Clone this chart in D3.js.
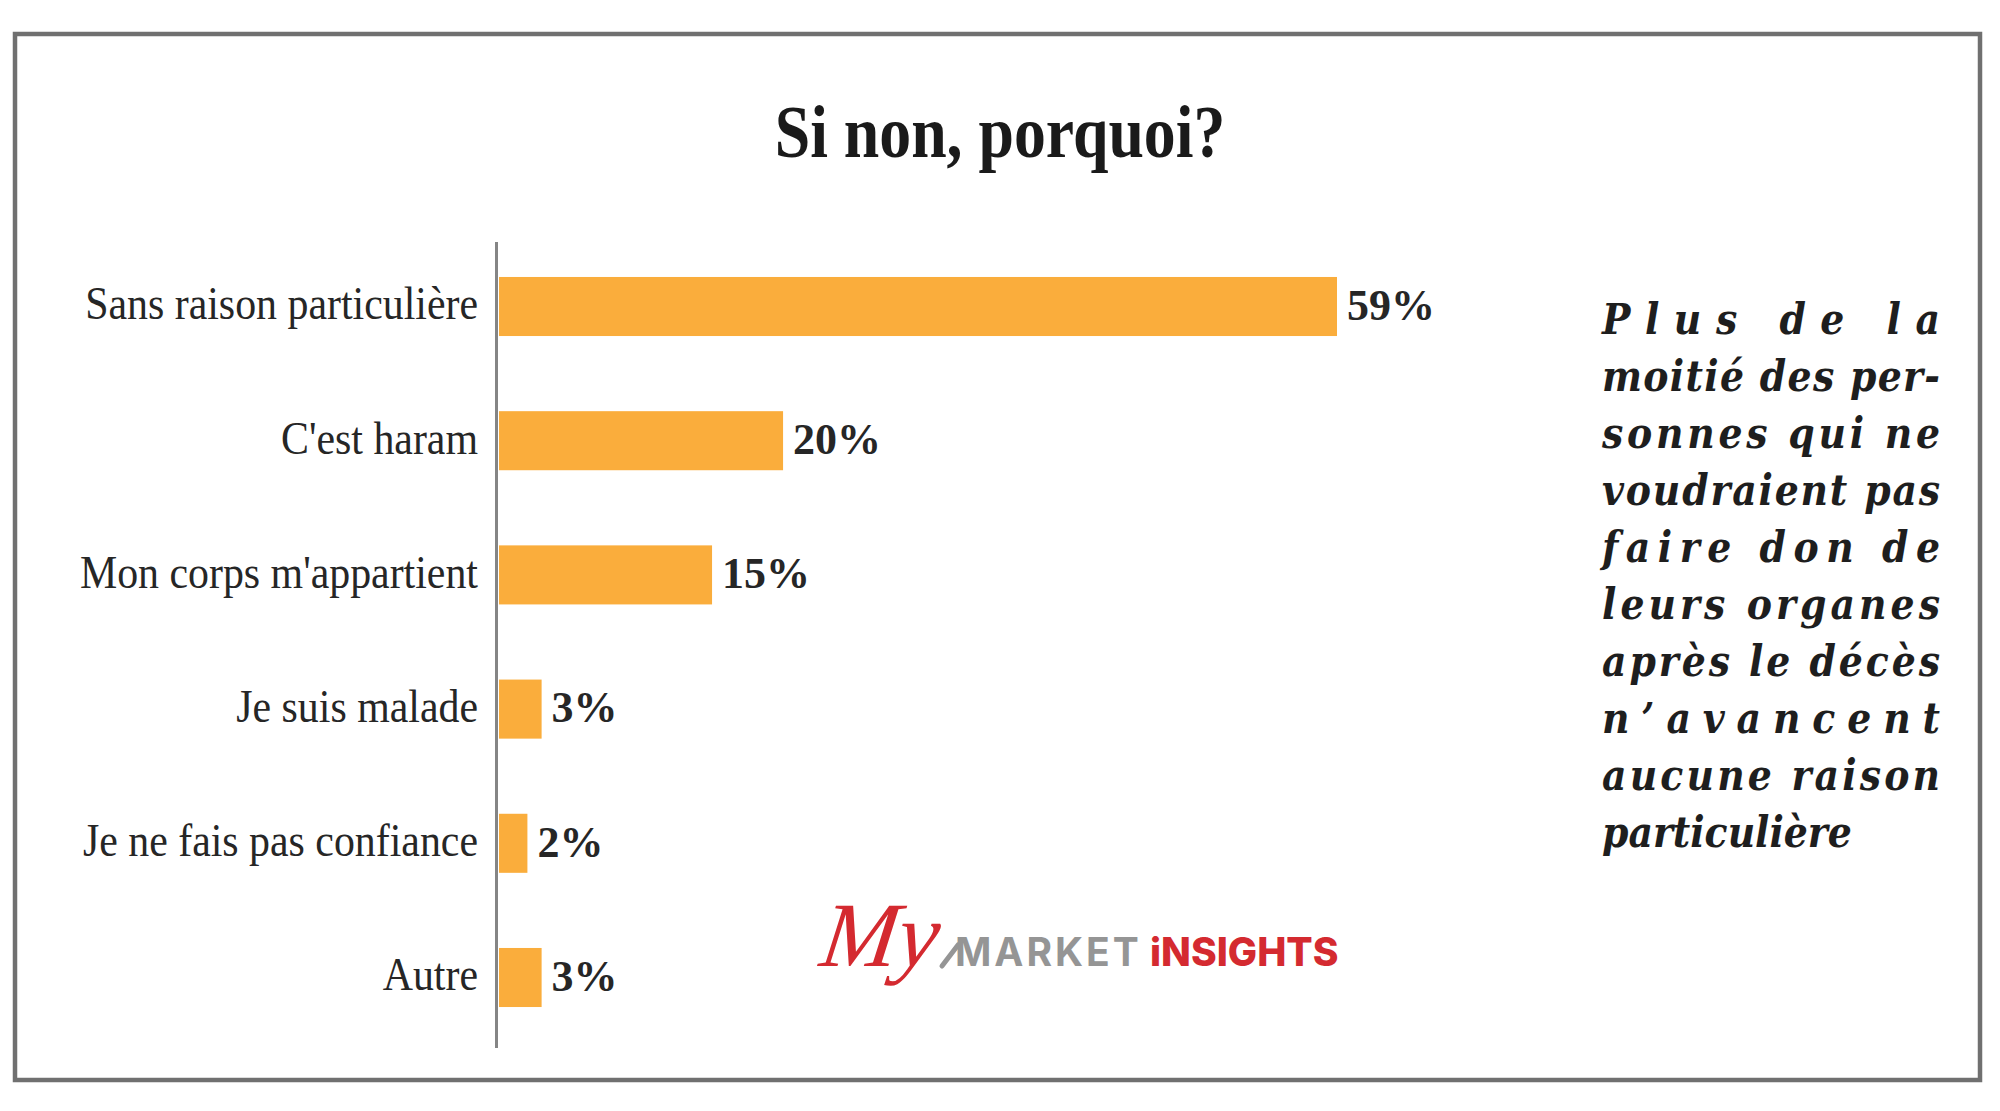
<!DOCTYPE html>
<html>
<head>
<meta charset="utf-8">
<script src="https://cdn.jsdelivr.net/npm/d3@7"></script>
<style>
  html, body { margin: 0; padding: 0; background: #fff; }
  svg { display: block; }
</style>
</head>
<body>
<svg id="chart" width="2000" height="1111"></svg>
<script>
// ---- data ----
const title = "Si non, porquoi?";
const categories = [
  "Sans raison particulière",
  "C'est haram",
  "Mon corps m'appartient",
  "Je suis malade",
  "Je ne fais pas confiance",
  "Autre"
];
const values = [59, 20, 15, 3, 2, 3];
const valueLabels = ["59%", "20%", "15%", "3%", "2%", "3%"];
const noteLines = [
  "Plus de la",
  "moitié des per-",
  "sonnes qui ne",
  "voudraient pas",
  "faire don de",
  "leurs organes",
  "après le décès",
  "n’avancent",
  "aucune raison",
  "particulière"
];
const logoScript = "My";
const logoWord1 = "MARKET";
const logoWord2 = "iNSIGHTS";

// ---- drawing ----
const svg = d3.select("#chart");
const W = 2000, H = 1111;
svg.append("rect").attr("width", W).attr("height", H).attr("fill", "#fff");

// frame
svg.append("rect")
  .attr("x", 15).attr("y", 34).attr("width", 1965).attr("height", 1046)
  .attr("fill", "none").attr("stroke", "#707070").attr("stroke-width", 4.5);

// title
svg.append("g").attr("transform", "translate(1000,157) scale(0.85,1)")
  .append("text")
  .attr("text-anchor", "middle")
  .attr("font-family", "'Liberation Serif', 'Times New Roman', serif")
  .attr("font-weight", "bold")
  .attr("font-size", 75)
  .attr("fill", "#1a1a1a")
  .text(title);

// scales
const y = d3.scaleBand()
  .domain(categories)
  .range([239, 1045])
  .paddingInner(0.56)
  .paddingOuter(0.283);

const x = d3.scaleLinear()
  .domain([0, 59])
  .range([499, 1337]);

// bars
svg.append("g").selectAll("rect")
  .data(categories)
  .join("rect")
  .attr("x", x(0))
  .attr("y", d => y(d))
  .attr("width", (d, i) => x(values[i]) - x(0))
  .attr("height", y.bandwidth())
  .attr("fill", "#FAAD3C");

// axis (domain line only)
const axisG = svg.append("g")
  .attr("transform", `translate(${x(0) - 2.5},0)`)
  .call(d3.axisLeft(y).tickSize(0).tickFormat(""));
axisG.select(".domain").attr("stroke", "#858585").attr("stroke-width", 3)
  .attr("d", "M0,242V1048");
axisG.selectAll(".tick").remove();

// category labels
svg.append("g").selectAll("g")
  .data(categories)
  .join("g")
  .attr("transform", d => `translate(478,${y(d) + y.bandwidth() / 2}) scale(0.91,1)`)
  .append("text")
  .attr("text-anchor", "end")
  .attr("dy", "0.28em")
  .attr("font-family", "'Liberation Serif', 'Times New Roman', serif")
  .attr("font-size", 46)
  .attr("fill", "#262626")
  .text(d => d);

// value labels
svg.append("g").selectAll("g")
  .data(categories)
  .join("g")
  .attr("transform", (d, i) => `translate(${x(values[i]) + 10},${y(d) + y.bandwidth() / 2})`)
  .append("text")
  .attr("dy", "0.3em")
  .attr("font-family", "'Liberation Serif', 'Times New Roman', serif")
  .attr("font-weight", "bold")
  .attr("font-size", 44)
  .attr("fill", "#262626")
  .text((d, i) => valueLabels[i]);

// annotation block (justified)
const note = svg.append("g");
note.selectAll("text")
  .data(noteLines)
  .join("text")
  .attr("x", 1602)
  .attr("y", (d, i) => 334 + i * 57)
  .attr("font-family", "'DejaVu Serif Condensed', 'DejaVu Serif', serif")
  .attr("font-stretch", "condensed")
  .attr("font-weight", "bold")
  .attr("font-style", "italic")
  .attr("font-size", 42)
  .attr("fill", "#1e1e1e")
  .each(function (d, i) {
    if (i < noteLines.length - 1) {
      d3.select(this).attr("textLength", 338).attr("lengthAdjust", "spacing");
    }
  })
  .text(d => d);

// logo
const logo = svg.append("g");
logo.append("text")
  .attr("x", 818).attr("y", 966)
  .attr("font-family", "'Liberation Serif', serif")
  .attr("font-style", "italic")
  .attr("font-size", 92)
  .attr("fill", "#D42A30")
  .attr("transform", "skewX(-8)")
  .attr("transform-origin", "870 966")
  .text(logoScript);
logo.append("line")
  .attr("x1", 942).attr("y1", 966).attr("x2", 958).attr("y2", 945)
  .attr("stroke", "#959595").attr("stroke-width", 5).attr("stroke-linecap", "round");
logo.append("text")
  .attr("x", 955).attr("y", 966)
  .attr("font-family", "Inter, 'Open Sans', sans-serif")
  .attr("font-weight", "bold")
  .attr("font-size", 39)
  .attr("letter-spacing", 3)
  .attr("fill", "#959595")
  .text(logoWord1);
logo.append("text")
  .attr("x", 1150).attr("y", 966)
  .attr("font-family", "Inter, 'Open Sans', sans-serif")
  .attr("font-weight", "800")
  .attr("font-size", 39)
  .attr("fill", "#D42A30")
  .text(logoWord2);
</script>
</body>
</html>
